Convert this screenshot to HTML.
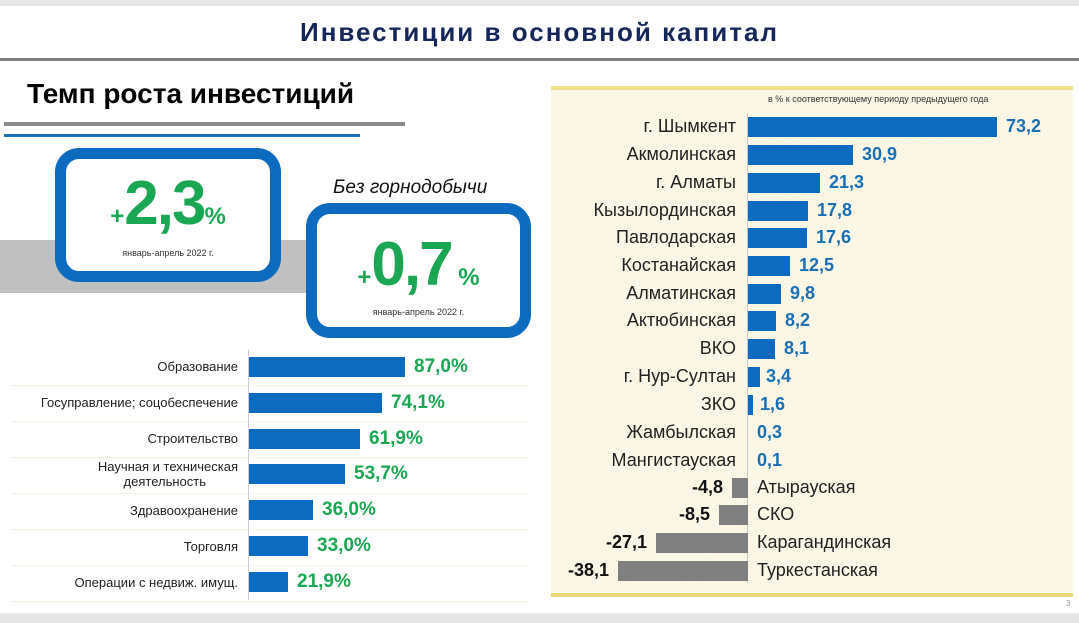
<!DOCTYPE html>
<html><head><meta charset="utf-8"><style>
*{margin:0;padding:0;box-sizing:border-box}
body{width:1079px;height:623px;background:#fff;position:relative;overflow:hidden;font-family:"Liberation Sans",sans-serif}
.a{position:absolute}
.lbl{position:absolute;text-align:right;font-size:13px;color:#222;line-height:15px}
.bar{position:absolute;background:#0c6bbf}
.gv{position:absolute;color:#1aa653;font-weight:bold;font-size:19px}
.rl{position:absolute;text-align:right;font-size:18px;color:#222;width:200px}
.rv{position:absolute;font-size:18px;font-weight:bold;color:#1a6fb5}
.gbar{position:absolute;background:#808080}
.nv{position:absolute;font-size:18px;font-weight:bold;color:#111;text-align:right;width:80px}
.nl{position:absolute;font-size:18px;color:#222}
.sep{position:absolute;left:12px;width:518px;border-top:1px dotted #ece9c8}
</style></head><body>
<div class="a" style="left:0;top:0;width:1079px;height:6px;background:#e6e6e6"></div>
<div class="a" style="left:0;top:17px;width:1079px;text-align:center;font-size:26px;font-weight:bold;color:#15265a;letter-spacing:2px">Инвестиции в основной капитал</div>
<div class="a" style="left:0;top:58px;width:1079px;height:3px;background:#808080"></div>
<div class="a" style="left:27px;top:78px;font-size:28px;font-weight:bold;color:#000">Темп роста инвестиций</div>
<div class="a" style="left:4px;top:122px;width:401px;height:4px;background:#8a8a8a"></div>
<div class="a" style="left:4px;top:134px;width:356px;height:3px;background:#1a6fc0"></div>
<div class="a" style="left:0;top:240px;width:310px;height:53px;background:#c0c0c0"></div>
<div class="a" style="left:55px;top:148px;width:226px;height:134px;border:11px solid #0c6bbf;border-radius:24px;background:#fff"></div>
<div class="a" style="left:55px;top:168px;width:226px;text-align:center;color:#1aa653;font-weight:bold"><span style="font-size:24px">+</span><span style="font-size:62px;letter-spacing:-2px">2,3</span><span style="font-size:24px">%</span></div>
<div class="a" style="left:55px;top:248px;width:226px;text-align:center;font-size:9px;color:#333">январь-апрель 2022 г.</div>
<div class="a" style="left:333px;top:177px;font-size:19px;font-style:italic;color:#111">Без горнодобычи</div>
<div class="a" style="left:306px;top:203px;width:225px;height:135px;border:11px solid #0c6bbf;border-radius:24px;background:#fff"></div>
<div class="a" style="left:306px;top:229px;width:225px;text-align:center;color:#1aa653;font-weight:bold"><span style="font-size:24px">+</span><span style="font-size:62px;letter-spacing:-2px">0,7</span><span style="font-size:24px"> %</span></div>
<div class="a" style="left:306px;top:307px;width:225px;text-align:center;font-size:9px;color:#333">январь-апрель 2022 г.</div>

<div class="a" style="left:248px;top:350px;width:1px;height:250px;background:#ccd"></div>
<div class="sep" style="top:385px"></div><div class="sep" style="top:421px"></div><div class="sep" style="top:457px"></div><div class="sep" style="top:493px"></div><div class="sep" style="top:529px"></div><div class="sep" style="top:565px"></div><div class="sep" style="top:601px"></div>

<div class="lbl" style="left:0;width:238px;top:359px">Образование</div>
<div class="bar" style="left:249px;top:357px;width:156px;height:20px"></div><div class="gv" style="left:414px;top:356px">87,0%</div>
<div class="lbl" style="left:0;width:238px;top:395px">Госуправление; соцобеспечение</div>
<div class="bar" style="left:249px;top:393px;width:133px;height:20px"></div><div class="gv" style="left:391px;top:392px">74,1%</div>
<div class="lbl" style="left:0;width:238px;top:431px">Строительство</div>
<div class="bar" style="left:249px;top:429px;width:111px;height:20px"></div><div class="gv" style="left:369px;top:428px">61,9%</div>
<div class="lbl" style="left:0;width:238px;top:459px">Научная и техническая<br><span style="margin-right:32px">деятельность</span></div>
<div class="bar" style="left:249px;top:464px;width:96px;height:20px"></div><div class="gv" style="left:354px;top:463px">53,7%</div>
<div class="lbl" style="left:0;width:238px;top:503px">Здравоохранение</div>
<div class="bar" style="left:249px;top:500px;width:64px;height:20px"></div><div class="gv" style="left:322px;top:499px">36,0%</div>
<div class="lbl" style="left:0;width:238px;top:539px">Торговля</div>
<div class="bar" style="left:249px;top:536px;width:59px;height:20px"></div><div class="gv" style="left:317px;top:535px">33,0%</div>
<div class="lbl" style="left:0;width:238px;top:575px">Операции с недвиж. имущ.</div>
<div class="bar" style="left:249px;top:572px;width:39px;height:20px"></div><div class="gv" style="left:297px;top:571px">21,9%</div>

<div class="a" style="left:551px;top:86px;width:522px;height:511px;background:repeating-linear-gradient(135deg,#fcf9ea 0 2px,#f6f2dc 2px 3px);border-top:4px solid #efe08e;border-bottom:4px solid #e9d87a"></div>
<div class="a" style="left:768px;top:94px;font-size:9px;color:#333">в % к соответствующему периоду предыдущего года</div>
<div class="a" style="left:747px;top:113px;width:1px;height:470px;background:#c8c8c8"></div>

<div class="rl" style="left:536px;top:116px">г. Шымкент</div><div class="bar" style="left:748px;top:117px;width:249px;height:20px"></div><div class="rv" style="left:1006px;top:116px">73,2</div>
<div class="rl" style="left:536px;top:144px">Акмолинская</div><div class="bar" style="left:748px;top:145px;width:105px;height:20px"></div><div class="rv" style="left:862px;top:144px">30,9</div>
<div class="rl" style="left:536px;top:172px">г. Алматы</div><div class="bar" style="left:748px;top:173px;width:72px;height:20px"></div><div class="rv" style="left:829px;top:172px">21,3</div>
<div class="rl" style="left:536px;top:200px">Кызылординская</div><div class="bar" style="left:748px;top:201px;width:60px;height:20px"></div><div class="rv" style="left:817px;top:200px">17,8</div>
<div class="rl" style="left:536px;top:227px">Павлодарская</div><div class="bar" style="left:748px;top:228px;width:59px;height:20px"></div><div class="rv" style="left:816px;top:227px">17,6</div>
<div class="rl" style="left:536px;top:255px">Костанайская</div><div class="bar" style="left:748px;top:256px;width:42px;height:20px"></div><div class="rv" style="left:799px;top:255px">12,5</div>
<div class="rl" style="left:536px;top:283px">Алматинская</div><div class="bar" style="left:748px;top:284px;width:33px;height:20px"></div><div class="rv" style="left:790px;top:283px">9,8</div>
<div class="rl" style="left:536px;top:310px">Актюбинская</div><div class="bar" style="left:748px;top:311px;width:28px;height:20px"></div><div class="rv" style="left:785px;top:310px">8,2</div>
<div class="rl" style="left:536px;top:338px">ВКО</div><div class="bar" style="left:748px;top:339px;width:27px;height:20px"></div><div class="rv" style="left:784px;top:338px">8,1</div>
<div class="rl" style="left:536px;top:366px">г. Нур-Султан</div><div class="bar" style="left:748px;top:367px;width:12px;height:20px"></div><div class="rv" style="left:766px;top:366px">3,4</div>
<div class="rl" style="left:536px;top:394px">ЗКО</div><div class="bar" style="left:748px;top:395px;width:5px;height:20px"></div><div class="rv" style="left:760px;top:394px">1,6</div>
<div class="rl" style="left:536px;top:422px">Жамбылская</div><div class="rv" style="left:757px;top:422px">0,3</div>
<div class="rl" style="left:536px;top:450px">Мангистауская</div><div class="rv" style="left:757px;top:450px">0,1</div>
<div class="gbar" style="left:732px;top:478px;width:16px;height:20px"></div><div class="nv" style="left:643px;top:477px">-4,8</div><div class="nl" style="left:757px;top:477px">Атырауская</div>
<div class="gbar" style="left:719px;top:505px;width:29px;height:20px"></div><div class="nv" style="left:630px;top:504px">-8,5</div><div class="nl" style="left:757px;top:504px">СКО</div>
<div class="gbar" style="left:656px;top:533px;width:92px;height:20px"></div><div class="nv" style="left:567px;top:532px">-27,1</div><div class="nl" style="left:757px;top:532px">Карагандинская</div>
<div class="gbar" style="left:618px;top:561px;width:130px;height:20px"></div><div class="nv" style="left:529px;top:560px">-38,1</div><div class="nl" style="left:757px;top:560px">Туркестанская</div>
<div class="a" style="left:1066px;top:599px;font-size:8px;color:#999">3</div>
<div class="a" style="left:0;top:613px;width:1079px;height:10px;background:#e6e6e6"></div>
</body></html>
